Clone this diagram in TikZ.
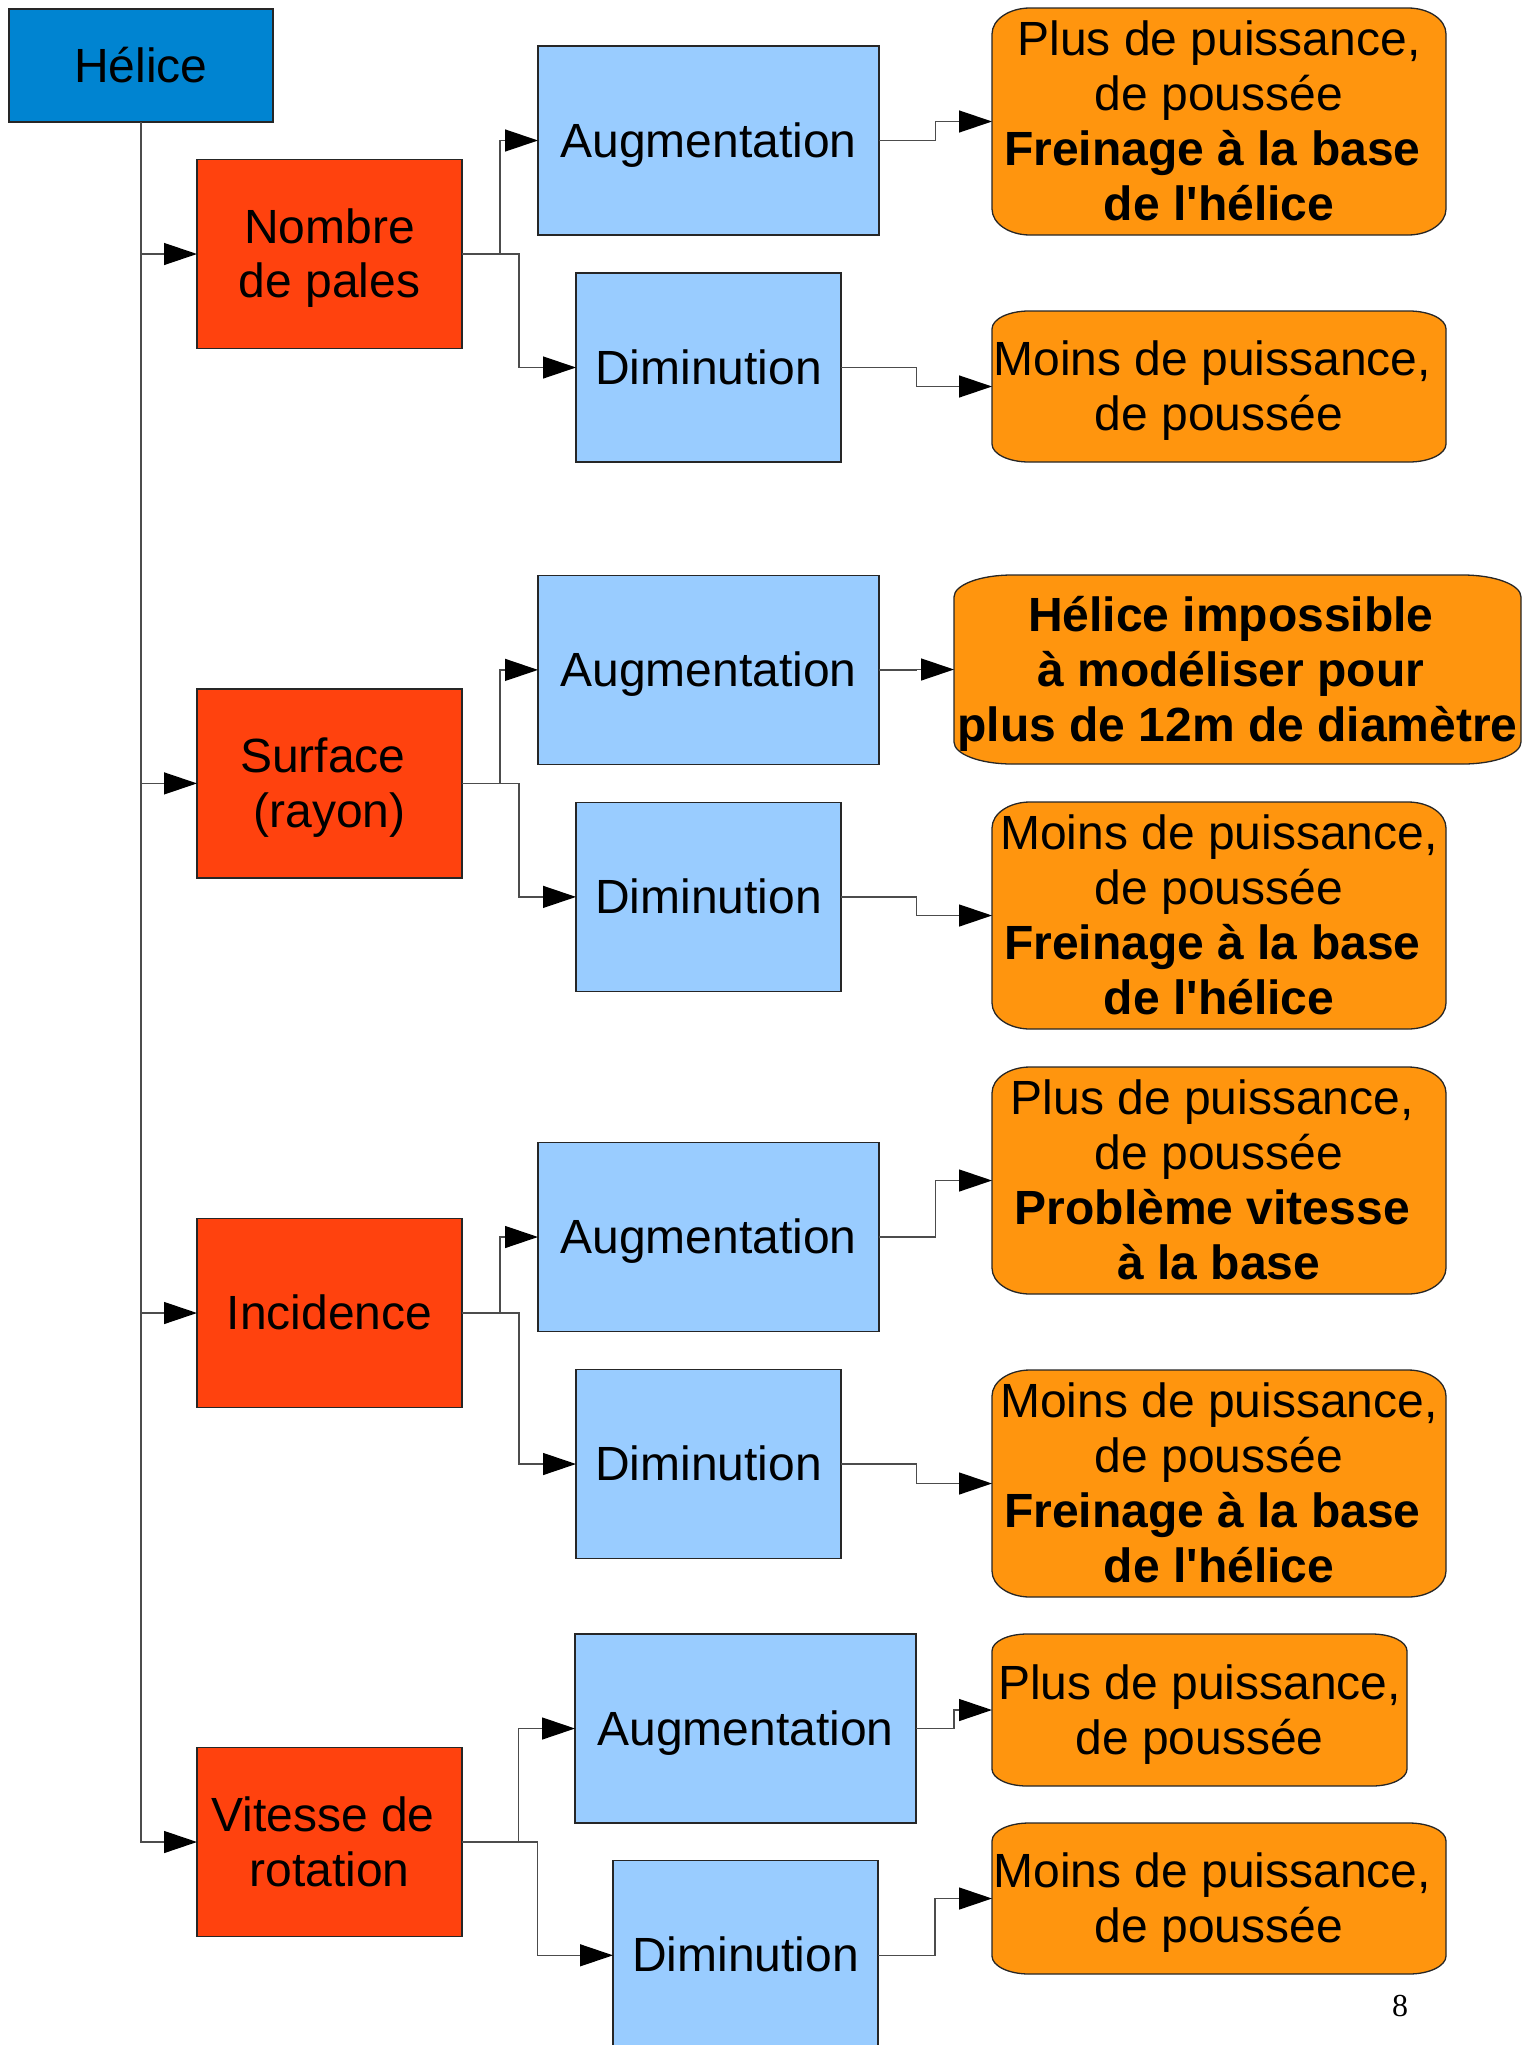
\documentclass[tikz,border=0pt]{standalone}
\usepackage{fontspec}
\setmainfont{Liberation Sans}[Ligatures=TeXOff]
\newfontfamily\pagenumfont{Liberation Serif}
\usetikzlibrary{arrows.meta,calc}
\definecolor{cblue}{HTML}{0084D1}
\definecolor{cred}{HTML}{FF420E}
\definecolor{clight}{HTML}{99CCFF}
\definecolor{corange}{HTML}{FF950E}
% line strut: font ascent and descent
\newcommand{\st}{\rule[-0.212em]{0pt}{1.117em}}
% trailing space kept at the end of a line
\newcommand{\tsp}{\kern0.278em}
% orange box with elliptical corners: name, x0, y0, x1, y1, rx, ry, text
\newcommand{\obox}[8]{%
  \filldraw[oshape]
    ({#2},{#3+#7}) .. controls ({#2},{#3+0.4477*#7}) and ({#2+0.4477*#6},{#3}) .. ({#2+#6},{#3})
    -- ({#4-#6},{#3}) .. controls ({#4-0.4477*#6},{#3}) and ({#4},{#3+0.4477*#7}) .. ({#4},{#3+#7})
    -- ({#4},{#5-#7}) .. controls ({#4},{#5-0.4477*#7}) and ({#4-0.4477*#6},{#5}) .. ({#4-#6},{#5})
    -- ({#2+#6},{#5}) .. controls ({#2+0.4477*#6},{#5}) and ({#2},{#5-0.4477*#7}) .. ({#2},{#5-#7})
    -- cycle;
  \node[otext, minimum width={#4-#2}, minimum height={#5-#3}] (#1) at ({(#2+#4)/2},{(#3+#5)/2}) {#8};
}
\begin{document}
\begin{tikzpicture}[x=1pt,y=-1pt,
  box/.style={rectangle, inner sep=0pt, outer sep=0pt, align=center,
    draw=black!85, line width=1.3pt, font=\fontsize{48}{54.7}\selectfont},
  topbox/.style={box, fill=cblue, minimum width=264, minimum height=113},
  redbox/.style={box, fill=cred, minimum width=265, minimum height=189},
  augbox/.style={box, fill=clight, minimum width=341, minimum height=189},
  dimbox/.style={box, fill=clight, minimum width=265, minimum height=189},
  oshape/.style={fill=corange, draw=black!85, line width=1.3pt},
  otext/.style={rectangle, inner sep=0pt, outer sep=0pt, align=center,
    font=\fontsize{48}{54.9}\selectfont},
  conn/.style={draw=black!70, line width=1.3pt,
    -{Triangle[length=33pt,width=22pt,color=black]}}
]
\useasboundingbox (0,0) rectangle (1529,2045);

% main node
\node[topbox] (hel) at (141,65.5) {\st Hélice};

% parameters
\node[redbox] (nb)  at (329.5,254)    {\st Nombre\\\st de pales};
\node[redbox] (su)  at (329.5,783.4)  {\st Surface\tsp\\\st (rayon)};
\node[redbox] (inc) at (329.5,1313)   {\st Incidence};
\node[redbox] (vit) at (329.5,1842)   {\st Vitesse de\tsp\\\st rotation};

% augmentation / diminution
\node[augbox] (a1) at (708.5,140.5)  {\st Augmentation};
\node[dimbox] (d1) at (708.5,367.5)  {\st Diminution};
\node[augbox] (a2) at (708.5,669.9)  {\st Augmentation};
\node[dimbox] (d2) at (708.5,896.9)  {\st Diminution};
\node[augbox] (a3) at (708.5,1237)   {\st Augmentation};
\node[dimbox] (d3) at (708.5,1464)   {\st Diminution};
\node[augbox] (a4) at (745.5,1728.5) {\st Augmentation};
\node[dimbox] (d4) at (745.5,1955.3) {\st Diminution};

% results
\obox{o1}{992}{8}{1446}{235}{38}{26}{\st Plus de puissance,\\\st de poussée\\\st\textbf{Freinage à la base\tsp}\\\st\textbf{de l'hélice}}
\obox{o2}{992}{311}{1446}{462}{37}{18}{\st Moins de puissance,\tsp\\\st de poussée}
\obox{o3}{954}{575}{1521}{764}{58}{22}{\st\textbf{Hélice impossible\tsp}\\\st\textbf{à modéliser pour\tsp}\\\st\textbf{plus de 12m de diamètre}}
\obox{o4}{992}{802}{1446}{1029}{38}{26}{\st Moins de puissance,\\\st de poussée\\\st\textbf{Freinage à la base\tsp}\\\st\textbf{de l'hélice}}
\obox{o5}{992}{1067}{1446}{1294}{38}{26}{\st Plus de puissance,\tsp\\\st de poussée\\\st\textbf{Problème vitesse\tsp}\\\st\textbf{à la base}}
\obox{o6}{992}{1370}{1446}{1597}{38}{26}{\st Moins de puissance,\\\st de poussée\\\st\textbf{Freinage à la base\tsp}\\\st\textbf{de l'hélice}}
\obox{o7}{992}{1634}{1407}{1786}{35}{17}{\st Plus de puissance,\\\st de poussée}
\obox{o8}{992}{1823}{1446}{1974}{37}{18}{\st Moins de puissance,\tsp\\\st de poussée}

% trunk
\foreach \r in {nb,su,inc,vit} {
  \draw[conn] (hel.south) |- (\r.west);
}

% parameter -> aug / dim
\foreach \p/\a/\d in {nb/a1/d1, su/a2/d2, inc/a3/d3, vit/a4/d4} {
  \draw[conn] (\p.east) -| ($(\p.east)!.5!(\a.west)$) |- (\a.west);
  \draw[conn] (\p.east) -| ($(\p.east)!.5!(\d.west)$) |- (\d.west);
}

% aug / dim -> results
\foreach \s/\t in {a1/o1, d1/o2, a2/o3, d2/o4, a3/o5, d3/o6, a4/o7, d4/o8} {
  \draw[conn] (\s.east) -| ($(\s.east)!.5!(\t.west)$) |- (\t.west);
}

% page number
\node[inner sep=0pt, font=\pagenumfont\fontsize{32}{36}\selectfont] (pg) at (1400,2006) {8};
\end{tikzpicture}
\end{document}
